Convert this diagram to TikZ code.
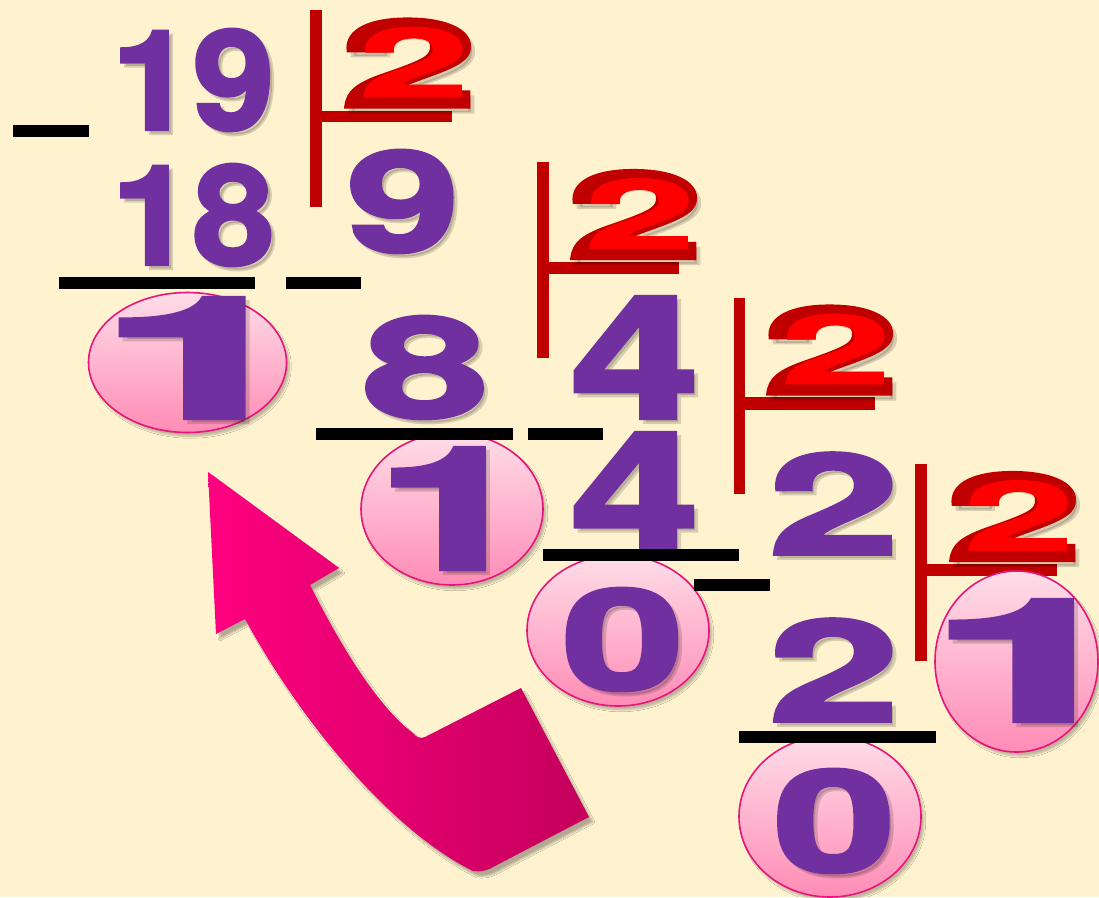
\documentclass[tikz,border=0pt]{standalone}
\usepackage{fontspec}
\usepackage{graphicx}
\usetikzlibrary{shapes.geometric,shadows.blur}
\newfontfamily\digf{TeX Gyre Heros}[BoldFeatures={FakeBold=2.5}]
\newfontfamily\digl{TeX Gyre Heros}[BoldFeatures={FakeBold=0.8}]
\definecolor{bgc}{HTML}{FFF2CF}
\definecolor{purp}{HTML}{7030A0}
\definecolor{dred}{HTML}{C00000}
\definecolor{bred}{HTML}{FF0000}
\definecolor{elltop}{HTML}{FFDDE8}
\definecolor{ellbot}{HTML}{FF8CB6}
\definecolor{elledge}{HTML}{E8147C}
\definecolor{arrA}{HTML}{FF0080}
\definecolor{arrB}{HTML}{C4005C}
\newcommand{\dgt}[3]{\resizebox{#1pt}{#2pt}{\digf\bfseries #3}}
\newcommand{\dgl}[3]{\resizebox{#1pt}{#2pt}{\digl\bfseries #3}}
\tikzset{
  pd/.style={text=purp, inner sep=0pt, outer sep=0pt},
  pshad/.style={text=black, opacity=0.15, inner sep=0pt, outer sep=0pt},
  rbar/.style={fill=dred, draw=none},
  kbar/.style={fill=black, draw=none},
  ell/.style={ellipse, draw=elledge, line width=1.6pt, top color=elltop, bottom color=ellbot, inner sep=0pt,
    blur shadow={shadow xshift=3pt, shadow yshift=-4pt, shadow opacity=25, shadow blur steps=6}},
  dout/.style={text=dred, inner sep=0pt, outer sep=0pt},
  din/.style={text=bred, inner sep=0pt, outer sep=0pt}
}
\newcommand{\pdig}[6]{%
  \node[pshad] at (#2+4,#3+4) {\dgt{#4}{#5}{#6}};
  \node[pd] (#1) at (#2,#3) {\dgt{#4}{#5}{#6}};}
\newcommand{\rtwo}[3]{%
  \node[pshad] at (#2+4,#3+5) {\dgt{138}{88}{2}};
  \node[dout] (#1) at (#2,#3) {\dgt{138}{88}{2}};
  \node[din] at (#2+5,#3-1) {\dgl{112}{70}{2}};}
\begin{document}
\begin{tikzpicture}[x=1pt,y=-1pt]
\useasboundingbox (0,0) rectangle (1099,897);
\fill[bgc] (0,0) rectangle (1099,897);

% arrow
\shade[left color=arrA, right color=arrB,
  blur shadow={shadow xshift=4pt, shadow yshift=-5pt, shadow opacity=30, shadow blur steps=6}]
  (208,472) -- (339,568) -- (310,585)
  .. controls (335,635) and (375,705) .. (413,733)
  .. controls (416,737) and (420,739) .. (425,737)
  -- (521,688) -- (589,817) -- (495,866)
  .. controls (487,871) and (480,872) .. (473,871)
  .. controls (390,830) and (300,720) .. (245,619)
  -- (216,634) -- cycle;

% ellipses
\node[ell, minimum width=198pt, minimum height=140pt] (e1) at (187.5,362.5) {};
\node[ell, minimum width=182pt, minimum height=152pt] (e2) at (452,509) {};
\node[ell, minimum width=182pt, minimum height=151pt] (e3) at (618,630.5) {};
\node[ell, minimum width=182pt, minimum height=161pt] (e5) at (830,816.5) {};

% red division brackets
\fill[rbar] (310,10) rectangle (322,207);
\fill[rbar] (322,111) rectangle (452,122);
\fill[rbar] (537,162) rectangle (549,358);
\fill[rbar] (549,262) rectangle (679,274);
\fill[rbar] (734,298) rectangle (745,494);
\fill[rbar] (745,397) rectangle (875,410);
\fill[rbar] (915,464) rectangle (927,661);
\fill[rbar] (927,564) rectangle (1057,576);
\node[ell, minimum width=163pt, minimum height=181pt] (e4) at (1016.5,661.5) {};

% red divisors
\rtwo{d1}{409}{63}
\rtwo{d2}{635}{214.5}
\rtwo{d3}{831}{350}
\rtwo{d4}{1014}{516.5}

% purple digits
\pdig{n19}{193}{80}{162}{100}{19}
\pdig{n18}{193}{215}{162}{100}{18}
\pdig{q9}{403}{201.5}{112}{101}{9}
\pdig{s8}{425.5}{367.5}{125}{101}{8}
\pdig{q4}{635}{357.5}{128}{121}{4}
\pdig{s4}{635}{493}{128}{120}{4}
\pdig{q2}{834}{503.5}{130}{101}{2}
\pdig{s2}{834}{670}{130}{102}{2}
\pdig{r1}{203}{358}{210}{120}{1}
\pdig{r2}{454}{508.5}{157}{121}{1}
\pdig{r3}{623}{639.5}{122}{101}{0}
\pdig{r4}{1032}{660.5}{208}{121}{1}
\pdig{r5}{834.5}{821}{122}{102}{0}

% black bars
\fill[kbar] (13,125) rectangle (89,137);
\fill[kbar] (59,277) rectangle (255,289);
\fill[kbar] (286,277) rectangle (361,289);
\fill[kbar] (316,428) rectangle (513,440);
\fill[kbar] (528,428) rectangle (603,440);
\fill[kbar] (543,549) rectangle (739,561);
\fill[kbar] (694,579) rectangle (770,591);
\fill[kbar] (739,731) rectangle (936,743);
\end{tikzpicture}
\end{document}
